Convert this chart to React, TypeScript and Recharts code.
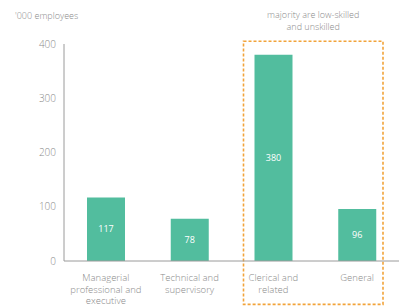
import { Bar, BarChart, LabelList, ReferenceArea, XAxis, YAxis } from 'recharts'

const categories = [
  'Managerial\nprofessional and\nexecutive',
  'Technical and\nsupervisory',
  'Clerical and\nrelated',
  'General',
]
const employees = [117, 78, 380, 96]
const yTicks = [0, 100, 200, 300, 400]
const unitLabel = "'000 employees"
const noteLines = ['majority are low-skilled', 'and unskilled']

const fontFamily = '"Open Sans", "Noto Sans", sans-serif'
const textColor = '#8a8a8a'

const chartData = categories.map((category, i) => ({
  category,
  employees: employees[i],
}))

function CategoryTick(props: any) {
  const { x, y, payload } = props
  const lines = String(payload.value).split('\n')
  return (
    <text
      x={x}
      y={y + 12}
      textAnchor="middle"
      fill={textColor}
      fontSize={9.5}
      fontFamily={fontFamily}
      fontWeight={300}
    >
      {lines.map((line, i) => (
        <tspan key={i} x={x} dy={i === 0 ? 0 : 11.5}>
          {line}
        </tspan>
      ))}
    </text>
  )
}

function NoteBox(props: any) {
  const { x, y, width, height } = props
  const left = x + 12
  const w = width - 28
  const cx = left + w / 2
  return (
    <g>
      <rect
        x={left}
        y={y}
        width={w}
        height={height}
        fill="none"
        stroke="#f2a33a"
        strokeWidth={1.6}
        strokeDasharray="3 2"
      />
      <text
        x={cx}
        y={y - 23}
        textAnchor="middle"
        fill={textColor}
        fontSize={9}
        fontFamily={fontFamily}
        fontWeight={300}
      >
        {noteLines.map((line, i) => (
          <tspan key={i} x={cx} dy={i === 0 ? 0 : 12}>
            {line}
          </tspan>
        ))}
      </text>
    </g>
  )
}

export default function App() {
  return (
    <div style={{ position: 'absolute', left: 0, top: 0, width: 399, height: 306, background: '#fff' }}>
      <div
        style={{
          position: 'absolute',
          left: 15,
          top: 9,
          fontSize: 9,
          fontFamily,
          fontWeight: 300,
          color: textColor,
        }}
      >
        {unitLabel}
      </div>
      <BarChart
        width={399}
        height={306}
        data={chartData}
        margin={{ top: 44, right: 0, bottom: 5, left: 0 }}
        barSize={38}
      >
        <XAxis
          dataKey="category"
          height={40}
          tickLine={false}
          axisLine={{ stroke: '#9a9a9a' }}
          tick={<CategoryTick />}
          interval={0}
        />
        <YAxis
          width={64}
          domain={[0, 400]}
          ticks={yTicks}
          tickLine={false}
          axisLine={{ stroke: '#9a9a9a' }}
          tick={{ fill: textColor, fontSize: 10, fontFamily, fontWeight: 300 }}
        />
        <Bar dataKey="employees" fill="#52bd9e" isAnimationActive={false}>
          <LabelList
            dataKey="employees"
            position="center"
            fill="#ffffff"
            fontSize={9}
            fontFamily={fontFamily}
          />
        </Bar>
        <ReferenceArea
          x1={categories[2]}
          x2={categories[3]}
          y1={-80}
          y2={405}
          ifOverflow="visible"
          shape={<NoteBox />}
        />
      </BarChart>
    </div>
  )
}
